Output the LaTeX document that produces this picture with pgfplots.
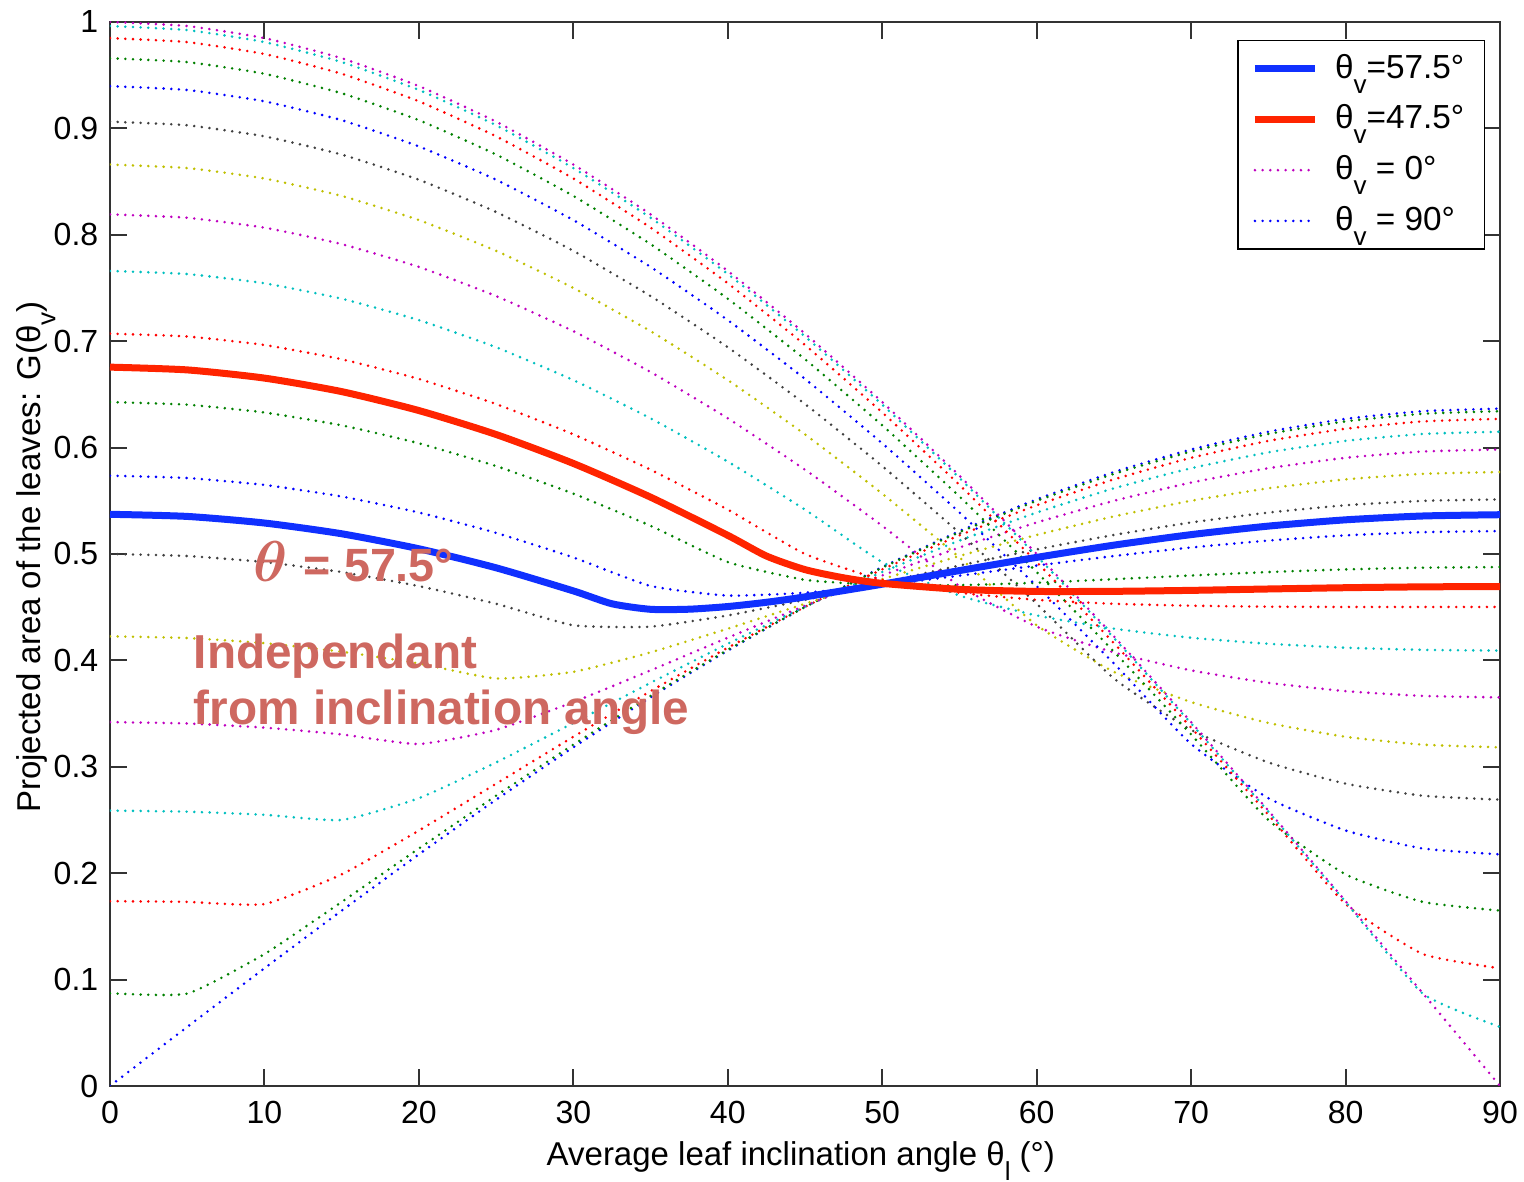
\documentclass[border=0pt]{standalone}
\usepackage{pgfplots}
\pgfplotsset{compat=1.18}
\usepackage{pgfplotstable}
\usepackage{fontspec}
\setmainfont{Liberation Sans}

\definecolor{mb}{rgb}{0,0,1}
\definecolor{mg}{rgb}{0,0.5,0}
\definecolor{mr}{rgb}{1,0,0}
\definecolor{mc}{rgb}{0,0.75,0.75}
\definecolor{mm}{rgb}{0.75,0,0.75}
\definecolor{my}{rgb}{0.75,0.75,0}
\definecolor{mk}{rgb}{0.25,0.25,0.25}
\definecolor{tb}{RGB}{16,48,255}
\definecolor{tr}{RGB}{255,36,0}
\definecolor{annot}{RGB}{206,104,96}

\newcommand{\tsub}[1]{\raisebox{-4.5pt}{\fontsize{7.8}{8}\selectfont #1}}

% G(theta_v, theta_l): rows = leaf angle l, columns = view angle v
\pgfplotstableread{
l  v0     v5     v10    v15    v20    v25    v30    v35    v40    v45    v50    v55    v60    v65    v70    v75    v80    v85    v90
0  1.0000 0.9962 0.9848 0.9659 0.9397 0.9063 0.8660 0.8192 0.7660 0.7071 0.6428 0.5736 0.5000 0.4226 0.3420 0.2588 0.1737 0.0872 0.0000
5  0.9962 0.9924 0.9811 0.9623 0.9361 0.9029 0.8627 0.8160 0.7631 0.7044 0.6403 0.5714 0.4981 0.4210 0.3407 0.2578 0.1730 0.0868 0.0555
10 0.9848 0.9811 0.9699 0.9513 0.9254 0.8925 0.8529 0.8067 0.7544 0.6964 0.6330 0.5649 0.4924 0.4162 0.3368 0.2549 0.1710 0.1240 0.1106
15 0.9659 0.9623 0.9513 0.9330 0.9077 0.8754 0.8365 0.7912 0.7399 0.6830 0.6209 0.5540 0.4830 0.4082 0.3304 0.2500 0.1989 0.1730 0.1648
20 0.9397 0.9361 0.9254 0.9077 0.8830 0.8517 0.8138 0.7698 0.7198 0.6645 0.6040 0.5390 0.4698 0.3971 0.3214 0.2705 0.2401 0.2232 0.2177
25 0.9063 0.9029 0.8925 0.8754 0.8517 0.8214 0.7849 0.7424 0.6943 0.6409 0.5826 0.5198 0.4532 0.3830 0.3347 0.3041 0.2841 0.2728 0.2691
30 0.8660 0.8627 0.8529 0.8365 0.8138 0.7849 0.7500 0.7094 0.6634 0.6124 0.5567 0.4967 0.4330 0.3892 0.3608 0.3412 0.3282 0.3208 0.3183
35 0.8192 0.8160 0.8067 0.7912 0.7698 0.7424 0.7094 0.6710 0.6275 0.5792 0.5265 0.4699 0.4317 0.4075 0.3906 0.3789 0.3711 0.3666 0.3652
40 0.7660 0.7631 0.7544 0.7399 0.7198 0.6943 0.6634 0.6275 0.5868 0.5417 0.4924 0.4609 0.4422 0.4298 0.4213 0.4156 0.4119 0.4099 0.4092
45 0.7071 0.7044 0.6964 0.6830 0.6645 0.6409 0.6124 0.5792 0.5417 0.5000 0.4757 0.4636 0.4569 0.4532 0.4514 0.4505 0.4502 0.4502 0.4502
50 0.6428 0.6403 0.6330 0.6209 0.6040 0.5826 0.5567 0.5265 0.4924 0.4757 0.4708 0.4707 0.4730 0.4763 0.4798 0.4830 0.4855 0.4871 0.4877
55 0.5736 0.5714 0.5649 0.5540 0.5390 0.5198 0.4967 0.4699 0.4609 0.4636 0.4707 0.4796 0.4891 0.4981 0.5061 0.5126 0.5175 0.5205 0.5215
60 0.5000 0.4981 0.4924 0.4830 0.4698 0.4532 0.4330 0.4317 0.4422 0.4569 0.4730 0.4891 0.5043 0.5179 0.5296 0.5389 0.5458 0.5499 0.5513
65 0.4226 0.4210 0.4162 0.4082 0.3971 0.3830 0.3892 0.4075 0.4298 0.4532 0.4763 0.4981 0.5179 0.5353 0.5500 0.5617 0.5701 0.5753 0.5770
70 0.3420 0.3407 0.3368 0.3304 0.3214 0.3347 0.3608 0.3906 0.4213 0.4514 0.4798 0.5061 0.5296 0.5500 0.5671 0.5806 0.5904 0.5963 0.5982
75 0.2588 0.2578 0.2549 0.2500 0.2705 0.3041 0.3412 0.3789 0.4156 0.4505 0.4830 0.5126 0.5389 0.5617 0.5806 0.5955 0.6063 0.6128 0.6149
80 0.1737 0.1730 0.1710 0.1989 0.2401 0.2841 0.3282 0.3711 0.4119 0.4502 0.4855 0.5175 0.5458 0.5701 0.5904 0.6063 0.6177 0.6246 0.6270
85 0.0872 0.0868 0.1240 0.1730 0.2232 0.2728 0.3208 0.3666 0.4099 0.4502 0.4871 0.5205 0.5499 0.5753 0.5963 0.6128 0.6246 0.6318 0.6342
90 0.0000 0.0555 0.1106 0.1648 0.2177 0.2691 0.3183 0.3652 0.4092 0.4502 0.4877 0.5215 0.5513 0.5770 0.5982 0.6149 0.6270 0.6342 0.6366
}\gtab

\pgfplotstableread{
x y
0 0.5373
5 0.5353
10 0.5291
15 0.5190
20 0.5049
25 0.4870
30 0.4653
32.5 0.4532
35 0.4480
37.5 0.4481
40 0.4506
42.5 0.4546
45 0.4597
50 0.4716
55 0.4844
60 0.4968
65 0.5083
70 0.5182
75 0.5262
80 0.5321
85 0.5357
90 0.5369
}\blueth

\pgfplotstableread{
x y
0 0.6756
5 0.6730
10 0.6653
15 0.6526
20 0.6348
25 0.6123
30 0.5851
35 0.5534
40 0.5175
42.5 0.4981
45 0.4853
47.5 0.4776
50 0.4724
55 0.4668
60 0.4648
65 0.4649
70 0.4658
75 0.4671
80 0.4683
85 0.4691
90 0.4694
}\redth

\pgfplotsset{
  dotbase/.style={line width=0.85pt, line cap=round, dash pattern=on 0pt off 2.3pt},
  dm/.style={dotbase, color=mm}, dc/.style={dotbase, color=mc},
  dr/.style={dotbase, color=mr}, dg/.style={dotbase, color=mg},
  db/.style={dotbase, color=mb}, dk/.style={dotbase, color=mk},
  dy/.style={dotbase, color=my},
  sm/.style={smooth, tension=0.3},
}

\begin{document}
\begin{tikzpicture}
\begin{axis}[
  scale only axis, width=417pt, height=319.2pt,
  xmin=0, xmax=90, ymin=0, ymax=1,
  xtick={0,10,20,30,40,50,60,70,80,90},
  ytick={0,0.1,0.2,0.3,0.4,0.5,0.6,0.7,0.8,0.9,1},
  tick align=inside, major tick length=5pt,
  tick style={line width=0.6pt, color=black!80},
  axis line style={line width=0.7pt, color=black!80},
  ticklabel style={font=\fontsize{9.6}{11}\selectfont},
  xticklabel style={yshift=-1pt},
  /pgf/number format/assume math mode=true,
  label style={font=\fontsize{9.9}{11}\selectfont},
  xlabel={Average leaf inclination angle θ\tsub{l} (°)},
  ylabel={Projected area of the leaves: G(θ\tsub{v})},
  xlabel style={at={(axis description cs:0.497,-0.0752)}, anchor=base},
  ylabel style={at={(axis description cs:-0.0500,0.497)}, anchor=base},
  no markers,
  legend style={at={(0.9892,0.9831)}, anchor=north east, draw=black, fill=white,
    font=\fontsize{10}{11}\selectfont, inner xsep=4pt, inner ysep=2pt, row sep=2.5pt,
    /tikz/every odd column/.append style={column sep=3pt}},
  legend cell align=left,
  legend image code/.code={\draw[#1] (0pt,0pt) -- (18pt,0pt);},
]
\addplot[db, sm, forget plot] table[x=l, y=v90] {\gtab};
\addplot[dg, sm, forget plot] table[x=l, y=v85] {\gtab};
\addplot[dr, sm, forget plot] table[x=l, y=v80] {\gtab};
\addplot[dc, sm, forget plot] table[x=l, y=v75] {\gtab};
\addplot[dm, sm, forget plot] table[x=l, y=v70] {\gtab};
\addplot[dy, sm, forget plot] table[x=l, y=v65] {\gtab};
\addplot[dk, sm, forget plot] table[x=l, y=v60] {\gtab};
\addplot[db, sm, forget plot] table[x=l, y=v55] {\gtab};
\addplot[dg, sm, forget plot] table[x=l, y=v50] {\gtab};
\addplot[dr, sm, forget plot] table[x=l, y=v45] {\gtab};
\addplot[dc, sm, forget plot] table[x=l, y=v40] {\gtab};
\addplot[dm, sm, forget plot] table[x=l, y=v35] {\gtab};
\addplot[dy, sm, forget plot] table[x=l, y=v30] {\gtab};
\addplot[dk, sm, forget plot] table[x=l, y=v25] {\gtab};
\addplot[db, sm, forget plot] table[x=l, y=v20] {\gtab};
\addplot[dg, sm, forget plot] table[x=l, y=v15] {\gtab};
\addplot[dr, sm, forget plot] table[x=l, y=v10] {\gtab};
\addplot[dc, sm, forget plot] table[x=l, y=v5] {\gtab};
\addplot[dm, sm, forget plot] table[x=l, y=v0] {\gtab};

\addplot[tb, line width=2.1pt, line join=round, smooth, tension=0.4] table[x=x, y=y] {\blueth};
\addlegendentry{θ\tsub{v}=57.5°}
\addplot[tr, line width=2.1pt, line join=round, smooth, tension=0.4] table[x=x, y=y] {\redth};
\addlegendentry{θ\tsub{v}=47.5°}
\addlegendimage{dm}
\addlegendentry{θ\tsub{v} = 0°}
\addlegendimage{db}
\addlegendentry{θ\tsub{v} = 90°}

\node[anchor=base west, inner sep=0pt, text=annot, font=\fontsize{14}{16}\selectfont\bfseries]
  at (axis cs:9.24,0.474) {{\fontsize{18.5}{20}\selectfont\boldmath$\theta$}\hspace{1pt} = 57.5°};
\node[anchor=base west, inner sep=0pt, text=annot, font=\fontsize{14.3}{17}\selectfont\bfseries]
  at (axis cs:5.39,0.3926) {Independant};
\node[anchor=base west, inner sep=0pt, text=annot, font=\fontsize{14.3}{17}\selectfont\bfseries]
  at (axis cs:5.39,0.3393) {from inclination angle};

\coordinate (SW) at (rel axis cs:0,0);
\coordinate (NE) at (rel axis cs:1,1);
\end{axis}
\pgfresetboundingbox
\path[use as bounding box] ([shift={(-33pt,-28.8pt)}]SW) rectangle ([shift={(7.2pt,6.6pt)}]NE);
\end{tikzpicture}
\end{document}
